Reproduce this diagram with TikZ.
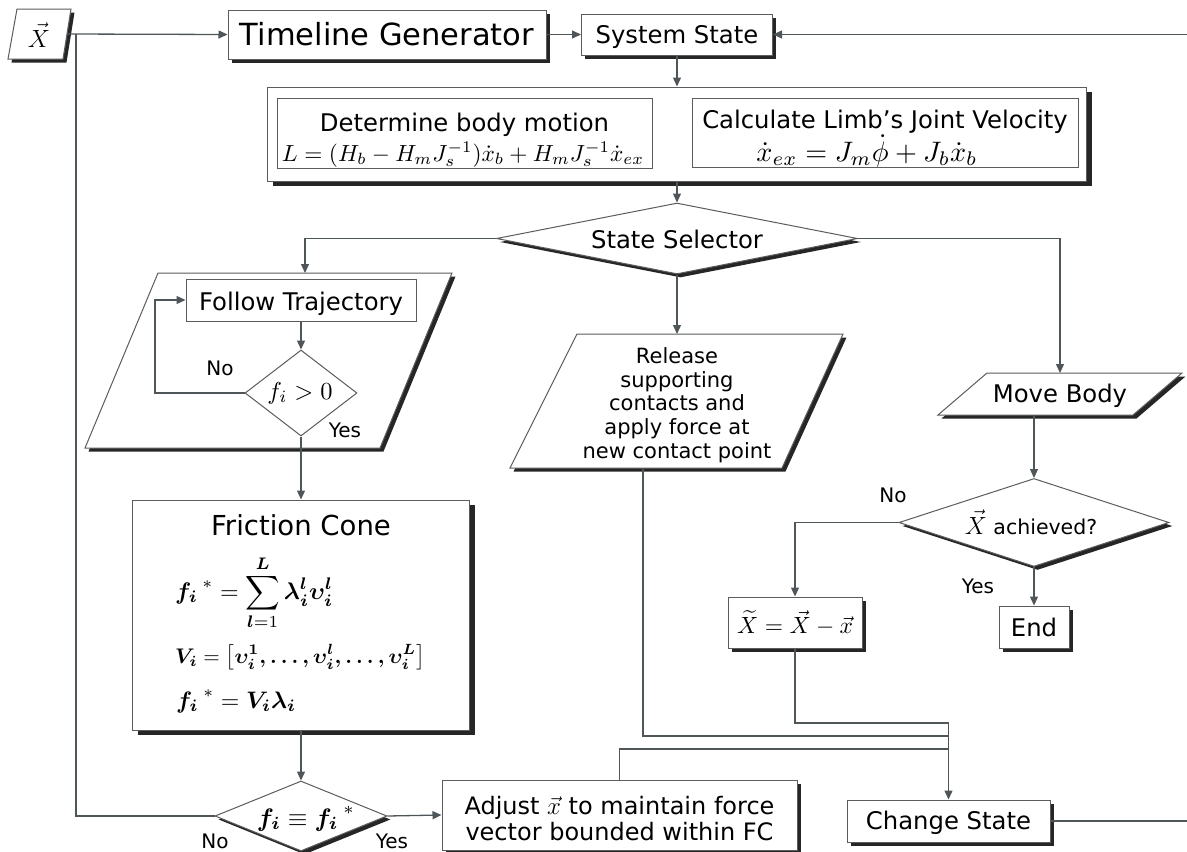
\documentclass[tikz,border=0pt]{standalone}
\usepackage{amsmath}
\usepackage{fontspec}
\setmainfont{DejaVu Sans}
\usetikzlibrary{shapes.geometric,shadows,arrows.meta}
\definecolor{lnc}{HTML}{4E5659}
\definecolor{bdc}{HTML}{5C5C5C}
\newcommand{\fitw}[2]{\resizebox{#1pt}{!}{#2}}
\begin{document}
\begin{tikzpicture}[x=1pt,y=-1pt,
  box/.style={draw=bdc, line width=1pt, fill=white, rectangle, inner sep=0pt},
  shad/.style={drop shadow={shadow xshift=3.5pt, shadow yshift=-3.5pt, opacity=1, fill=black!85}},
  shadb/.style={drop shadow={shadow xshift=5pt, shadow yshift=-5pt, opacity=1, fill=black!85}},
  para/.style={draw=bdc, line width=1pt, fill=white},
  conn/.style={draw=lnc, line width=1.3pt},
  arr/.style={conn, -{Triangle[length=9pt,width=8pt]}},
  txt/.style={font=\fontsize{24.3}{29}\selectfont, inner sep=0pt},
  lbl/.style={font=\fontsize{20}{22}\selectfont, inner sep=0pt},
  dia/.style={draw=bdc, line width=1pt, fill=white, diamond, inner sep=0pt},
  tx/.style={inner sep=0pt}
]
\useasboundingbox (0,0) rectangle (1187,852);

% ---------- input X ----------
\draw[para, shad] (17,9) -- (71,9) -- (63,59) -- (8,59) -- cycle;
\node[tx, font=\fontsize{25}{28}\selectfont] (xv) at (39,35) {$\vec{X}$};
\coordinate (xr) at (67,34);
\coordinate (jn) at (76,34);

% ---------- top row ----------
\node[box, shad, minimum width=318pt, minimum height=49pt] (tl) at (387,34.5) {};
\node[tx, font=\fontsize{30.5}{36}\selectfont, anchor=base] (tlt) at (387,45.5) {Timeline Generator};
\node[box, shad, minimum width=191pt, minimum height=41pt] (ss) at (677,34.5) {};
\node[txt, anchor=base] (sst) at (677,43.5) {System State};

% ---------- big box ----------
\node[box, shadb, minimum width=819pt, minimum height=94pt] (big) at (677,134) {};
\node[box, minimum width=375pt, minimum height=70pt] (dbm) at (464.5,133) {};
\node[txt, anchor=base] (dbmt) at (464.5,131) {Determine body motion};
\node[tx, anchor=base] (dbme) at (463,161) {\fitw{362}{$L=(H_b-H_mJ_s^{-1})\dot{x}_b+H_mJ_s^{-1}\dot{x}_{ex}$}};
\node[box, minimum width=386pt, minimum height=69pt] (cal) at (885,132.5) {};
\node[txt, anchor=base] (calt) at (885,128.5) {Calculate Limb’s Joint Velocity};
\node[tx, anchor=base] (cale) at (867,161) {\fitw{221}{$\dot{x}_{ex}=J_m\dot{\phi}+J_b\dot{x}_b$}};

% ---------- state selector ----------
\node[dia, shad, minimum width=361pt, minimum height=71pt] (sel) at (677,238.5) {};
\node[txt, anchor=base] (selt) at (677,248) {State Selector};

% ---------- follow trajectory ----------
\draw[para, shad] (158,273) -- (452,273) -- (380,448) -- (85,448) -- cycle;
\coordinate (ftop) at (305,273);
\node[box, minimum width=230pt, minimum height=42pt] (ft) at (301,300) {};
\node[txt, anchor=base] (ftt) at (301,310) {Follow Trajectory};
\node[dia, minimum width=112pt, minimum height=86pt] (fd) at (301,393) {};
\node[tx, anchor=base] (fdt) at (300,399) {\fitw{65}{$f_i>0$}};
\coordinate (lp) at (155,300);
\node[lbl] (no1) at (220,368) {No};
\node[lbl] (yes1) at (345,430) {Yes};

% ---------- friction cone ----------
\node[box, shadb, minimum width=337pt, minimum height=230pt] (fc) at (301,615) {};
\node[tx, font=\fontsize{27.5}{32}\selectfont, anchor=base] (fct) at (301,535) {Friction Cone};
\node[tx, anchor=base west] (fe1) at (175,599) {\fitw{158}{$\displaystyle \boldsymbol{f_i\,}^{*}=\sum_{\boldsymbol{l}=1}^{\boldsymbol{L}}\boldsymbol{\lambda_i^l\upsilon_i^l}$}};
\node[tx, anchor=base west] (fe2) at (175,663) {\fitw{250}{$\displaystyle \boldsymbol{V_i}=\left[\boldsymbol{\upsilon_i^1,\ldots,\upsilon_i^l,\ldots,\upsilon_i^L}\right]$}};
\node[tx, anchor=base west] (fe3) at (176,708) {\fitw{120}{$\displaystyle \boldsymbol{f_i\,}^{*}=\boldsymbol{V_i\lambda_i}$}};

% ---------- bottom decision ----------
\node[dia, shad, minimum width=172pt, minimum height=70pt] (eqd) at (301,816) {};
\node[tx, anchor=base] (eqt) at (306,826) {\fitw{98}{$\boldsymbol{f_i}\equiv\boldsymbol{f_i\,}^{*}$}};
\node[lbl] (no2) at (215,841) {No};
\node[lbl] (yes2) at (392,841) {Yes};

\node[box, shad, minimum width=355pt, minimum height=70pt] (adj) at (619.5,815) {};
\node[txt, align=center, font=\fontsize{24}{26.5}\selectfont] (adjt) at (619.5,818.5) {Adjust $\vec{x}$ to maintain force\\vector bounded within FC};

% ---------- release ----------
\draw[para, shad] (577,334) -- (843,334) -- (782,468) -- (510,468) -- cycle;
\coordinate (reltop) at (677,334);
\coordinate (relbot) at (643,468);
\node[tx, align=center, font=\fontsize{21}{23.8}\selectfont] (relt) at (677,405) {Release\\supporting\\contacts and\\apply force at\\new contact point};

% ---------- move body ----------
\draw[para, shad] (987,373) -- (1182,373) -- (1133,415) -- (938,415) -- cycle;
\coordinate (mbtop) at (1060,373);
\coordinate (mbbot) at (1034,415);
\node[txt, anchor=base] (mbt) at (1060,402.5) {Move Body};

% ---------- X achieved ----------
\node[dia, shad, minimum width=270pt, minimum height=88pt] (xa) at (1034,522.5) {};
\node[tx, anchor=base, font=\fontsize{20.5}{24}\selectfont] (xat) at (1031,534) {{\fontsize{26}{28}\selectfont$\vec{X}$} achieved?};
\node[lbl] (no3) at (893,495) {No};
\node[lbl] (yes3) at (978,586) {Yes};

\node[box, shad, minimum width=134pt, minimum height=51pt] (xt) at (795,622.5) {};
\node[tx, anchor=base] (xtt) at (795,633) {\fitw{116}{$\widetilde{X}=\vec{X}-\vec{x}$}};
\node[box, shad, minimum width=70pt, minimum height=42pt] (en) at (1034,627) {};
\node[txt, anchor=base] (ent) at (1034,636.5) {End};

\node[box, shad, minimum width=203pt, minimum height=42pt] (cs) at (948.5,821) {};
\node[txt, anchor=base] (cst) at (948.5,829.5) {Change State};

\coordinate (m1) at (948.5,723);
\coordinate (m2) at (948.5,736);
\coordinate (m3) at (948.5,749);
\coordinate (rtop) at (1187,34.5);
\coordinate (rbot) at (1187,821);

% ---------- connectors ----------
\draw[arr] (xr) -- (tl.west);
\draw[arr] (tl.east) -- (ss.west);
\draw[arr] (rtop) -- (ss.east);
\draw[arr] (ss.south) -- (big.north);
\draw[arr] (big.south) -- (sel.north);
\draw[arr] (sel.west) -| (ftop);
\draw[arr] (sel.east) -| (mbtop);
\draw[arr] (sel.south) -- (reltop);
\draw[arr] (ft.south) -- (fd.north);
\draw[arr] (fd.west) -| (lp) -- (ft.west);
\draw[arr] (fd.south) -- (fc.north);
\draw[arr] (fc.south) -- (eqd.north);
\draw[conn] (eqd.west) -| (jn);
\draw[arr] (eqd.east) -- (adj.west);
\draw[arr] (mbbot) -- (xa.north);
\draw[arr] (xa.west) -| (xt.north);
\draw[arr] (xa.south) -- (en.north);
\draw[conn] (xt.south) |- (m1);
\draw[conn] (relbot) |- (m2);
\draw[conn] (adj.north) |- (m3);
\draw[arr] (m1) -- (cs.north);
\draw[conn] (cs.east) -- (rbot);
\end{tikzpicture}
\end{document}
